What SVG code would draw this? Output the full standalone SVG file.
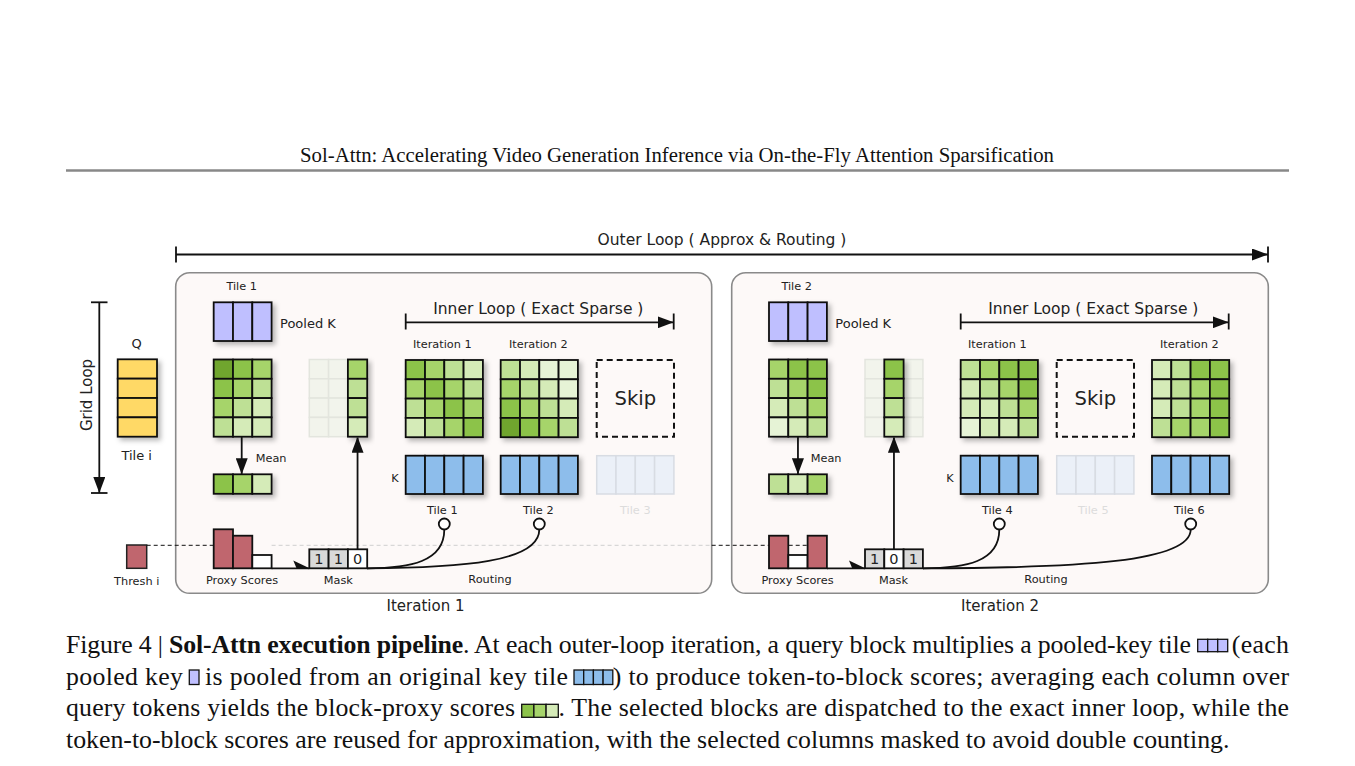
<svg xmlns="http://www.w3.org/2000/svg" xmlns:xlink="http://www.w3.org/1999/xlink" width="1355" height="766" viewBox="0 0 1355 766">
<style>
.bx{fill:#FDF9F8;stroke:#8a8a8a;stroke-width:1.6}
.m rect{stroke:#111;stroke-width:1.8}
.fd rect{fill:#F2F4EC;stroke:#E3E5DE;stroke-width:1.5}
.g1{fill:#6FA52E}.g2{fill:#8CC34A}.g3{fill:#A6D46B}.g4{fill:#BEE095}.g5{fill:#D5EBB8}.g6{fill:#E6F3D6}
.pk{fill:#BFBFFF}.kb{fill:#8DBDEB}.qy{fill:#FFD966}.pr{fill:#C0666E}.wh{fill:#ffffff}.mg{fill:#D9D9D9}
.fk rect{fill:#EBF0F8;stroke:#D8DCE3;stroke-width:1.5}
.t{font-family:"DejaVu Sans",Verdana,sans-serif;fill:#222}
.sm{font-size:11.3px}
.md{font-size:13px}
.lg{font-size:15.5px}
.mid{text-anchor:middle}
.ln{stroke:#111;stroke-width:1.8;fill:none}
.dash{stroke:#111;stroke-width:1;stroke-dasharray:4 3;fill:none}
.dashl{stroke:#cfcfcf;stroke-width:1;stroke-dasharray:4 3;fill:none}
.skip{fill:none;stroke:#111;stroke-width:2;stroke-dasharray:6 4}
.cap{font-family:"Liberation Serif","Times New Roman",serif;font-size:25.8px;fill:#111}
.ic rect{stroke:#111;stroke-width:1.3}
</style>
<defs>
<filter id="sh" x="-20%" y="-20%" width="160%" height="160%">
<feDropShadow dx="3" dy="3" stdDeviation="2.5" flood-color="#000" flood-opacity="0.28"/>
</filter>
<marker id="ah" viewBox="0 0 16 12" refX="16" refY="6" markerWidth="16" markerHeight="12" markerUnits="userSpaceOnUse" orient="auto">
<path d="M0,0 L16,6 L0,12 z" fill="#111"/>
</marker>
<g id="pooled" class="m">
<rect x="0" y="0" width="19.3" height="38.7" class="pk"/>
<rect x="19.3" y="0" width="19.3" height="38.7" class="pk"/>
<rect x="38.6" y="0" width="19.3" height="38.7" class="pk"/>
</g>
<g id="ktile" class="m">
<rect x="0" y="0" width="19.3" height="38.3" class="kb"/>
<rect x="19.3" y="0" width="19.3" height="38.3" class="kb"/>
<rect x="38.6" y="0" width="19.3" height="38.3" class="kb"/>
<rect x="57.9" y="0" width="19.3" height="38.3" class="kb"/>
</g>
<g id="kfaded" class="fk">
<rect x="0" y="0" width="19.3" height="38.3"/>
<rect x="19.3" y="0" width="19.3" height="38.3"/>
<rect x="38.6" y="0" width="19.3" height="38.3"/>
<rect x="57.9" y="0" width="19.3" height="38.3"/>
</g>
<g id="fade34" class="fd">
<rect x="0" y="0" width="19.3" height="19.3"/><rect x="19.3" y="0" width="19.3" height="19.3"/><rect x="38.6" y="0" width="19.3" height="19.3"/>
<rect x="0" y="19.3" width="19.3" height="19.3"/><rect x="19.3" y="19.3" width="19.3" height="19.3"/><rect x="38.6" y="19.3" width="19.3" height="19.3"/>
<rect x="0" y="38.6" width="19.3" height="19.3"/><rect x="19.3" y="38.6" width="19.3" height="19.3"/><rect x="38.6" y="38.6" width="19.3" height="19.3"/>
<rect x="0" y="57.9" width="19.3" height="19.3"/><rect x="19.3" y="57.9" width="19.3" height="19.3"/><rect x="38.6" y="57.9" width="19.3" height="19.3"/>
</g>
</defs>

<g id="header">
<text class="cap" x="677" y="162" text-anchor="middle" style="font-size:20px" textLength="754" lengthAdjust="spacingAndGlyphs">Sol-Attn: Accelerating Video Generation Inference via On-the-Fly Attention Sparsification</text>
<line x1="66" y1="170.5" x2="1289" y2="170.5" stroke="#888" stroke-width="2.5"/>
</g>

<g id="outer-loop">
<text class="t lg mid" x="722" y="244.5">Outer Loop ( Approx &amp; Routing )</text>
<line class="ln" x1="176" y1="254.5" x2="1268" y2="254.5" marker-end="url(#ah)"/>
<line class="ln" x1="176" y1="246.5" x2="176" y2="262.5"/>
<line class="ln" x1="1268" y1="246.5" x2="1268" y2="262.5"/>
</g>

<g id="grid-loop">
<line class="ln" x1="99.3" y1="302.3" x2="99.3" y2="493" marker-end="url(#ah)"/>
<line class="ln" x1="91" y1="302.3" x2="107.5" y2="302.3"/>
<line class="ln" x1="91" y1="493" x2="107.5" y2="493"/>
<text class="t mid" style="font-size:15px" transform="translate(92.3,395) rotate(-90)">Grid Loop</text>
</g>

<g id="q-tile">
<text class="t md mid" x="136.7" y="347.5">Q</text>
<g class="m" filter="url(#sh)">
<rect x="117.7" y="359.3" width="39.3" height="19.35" class="qy"/>
<rect x="117.7" y="378.65" width="39.3" height="19.35" class="qy"/>
<rect x="117.7" y="398" width="39.3" height="19.35" class="qy"/>
<rect x="117.7" y="417.35" width="39.3" height="19.35" class="qy"/>
</g>
<text class="t md mid" x="136.7" y="459.5">Tile i</text>
</g>

<g id="box1-frame"><rect class="bx" x="175.7" y="272.7" width="536" height="320.6" rx="14"/></g>
<g id="box2-frame"><rect class="bx" x="731.7" y="272.7" width="536.6" height="320.6" rx="14"/></g>

<g id="threshold">
<rect x="126.7" y="545" width="20" height="23.3" class="pr" stroke="#222" stroke-width="1.5"/>
<text class="t sm mid" x="136.7" y="584.8">Thresh i</text>
</g>

<g id="connectors">
<line class="dash" x1="146.7" y1="545.3" x2="213.7" y2="545.3"/>
<line class="dashl" x1="271.6" y1="545.3" x2="711" y2="545.3"/>
<line class="dash" x1="711.7" y1="545.3" x2="807.6" y2="545.3"/>
<line class="ln" x1="241.7" y1="436" x2="241.7" y2="474.3" marker-end="url(#ah)"/>
<line class="ln" x1="357.55" y1="549.3" x2="357.55" y2="436.7" marker-end="url(#ah)"/>
<line class="ln" x1="271.6" y1="568.3" x2="309.3" y2="568.3"/>
<polygon points="293.3,560.5 309.5,568.3 296.5,568.3" fill="#111"/>
<path class="ln" d="M367.2,568.3 C410,568 444.3,562 444.3,529.5"/>
<path class="ln" d="M367.2,568.3 C462,568 539.3,562 539.3,529.5"/>
<line class="ln" x1="405.7" y1="322.3" x2="673.7" y2="322.3" marker-end="url(#ah)"/>
<line class="ln" x1="405.7" y1="313.5" x2="405.7" y2="329.5"/>
<line class="ln" x1="673.7" y1="313.5" x2="673.7" y2="329.5"/>
<line class="ln" x1="797.95" y1="436" x2="797.95" y2="474.3" marker-end="url(#ah)"/>
<line class="ln" x1="893.95" y1="549.3" x2="893.95" y2="436.7" marker-end="url(#ah)"/>
<line class="ln" x1="826.9" y1="568.3" x2="865" y2="568.3"/>
<polygon points="849,560.5 865.2,568.3 852.2,568.3" fill="#111"/>
<path class="ln" d="M922.9,568.3 C966,568 999.3,562 999.3,529.5"/>
<path class="ln" d="M922.9,568.3 C1080,568 1190.7,562 1190.7,529.5"/>
<line class="ln" x1="960.7" y1="322.3" x2="1228.7" y2="322.3" marker-end="url(#ah)"/>
<line class="ln" x1="960.7" y1="313.5" x2="960.7" y2="329.5"/>
<line class="ln" x1="1228.7" y1="313.5" x2="1228.7" y2="329.5"/>
<circle cx="444.3" cy="524" r="5.5" fill="#fff" stroke="#111" stroke-width="1.8"/>
<circle cx="539.3" cy="524" r="5.5" fill="#fff" stroke="#111" stroke-width="1.8"/>
<circle cx="999.3" cy="524" r="5.5" fill="#fff" stroke="#111" stroke-width="1.8"/>
<circle cx="1190.7" cy="524" r="5.5" fill="#fff" stroke="#111" stroke-width="1.8"/>
</g>

<g id="b1-pooled">
<text class="t sm mid" x="241.7" y="290">Tile 1</text>
<use xlink:href="#pooled" x="213.7" y="302.3" filter="url(#sh)"/>
<text class="t md" x="280" y="328">Pooled K</text>
</g>
<g id="b1-scores" class="m" filter="url(#sh)" transform="translate(213.7,359.5)">
<rect x="0" y="0" width="19.3" height="19.3" class="g1"/><rect x="19.3" y="0" width="19.3" height="19.3" class="g2"/><rect x="38.6" y="0" width="19.3" height="19.3" class="g3"/>
<rect x="0" y="19.3" width="19.3" height="19.3" class="g2"/><rect x="19.3" y="19.3" width="19.3" height="19.3" class="g3"/><rect x="38.6" y="19.3" width="19.3" height="19.3" class="g4"/>
<rect x="0" y="38.6" width="19.3" height="19.3" class="g3"/><rect x="19.3" y="38.6" width="19.3" height="19.3" class="g4"/><rect x="38.6" y="38.6" width="19.3" height="19.3" class="g5"/>
<rect x="0" y="57.9" width="19.3" height="19.3" class="g4"/><rect x="19.3" y="57.9" width="19.3" height="19.3" class="g5"/><rect x="38.6" y="57.9" width="19.3" height="19.3" class="g5"/>
</g>
<g id="b1-mean">
<text class="t sm" x="255.7" y="462.3">Mean</text>
<g class="m" filter="url(#sh)" transform="translate(213.7,474.3)">
<rect x="0" y="0" width="19.3" height="19.5" class="g2"/><rect x="19.3" y="0" width="19.3" height="19.5" class="g3"/><rect x="38.6" y="0" width="19.3" height="19.5" class="g5"/>
</g>
</g>
<g id="b1-masked">
<use xlink:href="#fade34" x="309.3" y="359.5"/>
<g class="m" filter="url(#sh)" transform="translate(347.9,359.5)">
<rect x="0" y="0" width="19.3" height="19.3" class="g3"/><rect x="0" y="19.3" width="19.3" height="19.3" class="g4"/><rect x="0" y="38.6" width="19.3" height="19.3" class="g4"/><rect x="0" y="57.9" width="19.3" height="19.3" class="g5"/>
</g>
</g>
<g id="b1-inner-label"><text class="t lg mid" x="538.3" y="313.8">Inner Loop ( Exact Sparse )</text></g>
<g id="b1-iter1">
<text class="t sm mid" x="442.3" y="347.5">Iteration 1</text>
<g class="m" filter="url(#sh)" transform="translate(405.7,360)">
<rect x="0" y="0" width="19.3" height="19.3" class="g2"/><rect x="19.3" y="0" width="19.3" height="19.3" class="g3"/><rect x="38.6" y="0" width="19.3" height="19.3" class="g4"/><rect x="57.9" y="0" width="19.3" height="19.3" class="g5"/>
<rect x="0" y="19.3" width="19.3" height="19.3" class="g3"/><rect x="19.3" y="19.3" width="19.3" height="19.3" class="g2"/><rect x="38.6" y="19.3" width="19.3" height="19.3" class="g3"/><rect x="57.9" y="19.3" width="19.3" height="19.3" class="g4"/>
<rect x="0" y="38.6" width="19.3" height="19.3" class="g4"/><rect x="19.3" y="38.6" width="19.3" height="19.3" class="g3"/><rect x="38.6" y="38.6" width="19.3" height="19.3" class="g2"/><rect x="57.9" y="38.6" width="19.3" height="19.3" class="g3"/>
<rect x="0" y="57.9" width="19.3" height="19.3" class="g5"/><rect x="19.3" y="57.9" width="19.3" height="19.3" class="g4"/><rect x="38.6" y="57.9" width="19.3" height="19.3" class="g3"/><rect x="57.9" y="57.9" width="19.3" height="19.3" class="g2"/>
</g>
<use xlink:href="#ktile" x="405.7" y="455.7" filter="url(#sh)"/>
<text class="t sm mid" x="442.3" y="514">Tile 1</text>
</g>
<g id="b1-iter2">
<text class="t sm mid" x="538.3" y="347.5">Iteration 2</text>
<g class="m" filter="url(#sh)" transform="translate(500.7,360)">
<rect x="0" y="0" width="19.3" height="19.3" class="g4"/><rect x="19.3" y="0" width="19.3" height="19.3" class="g5"/><rect x="38.6" y="0" width="19.3" height="19.3" class="g6"/><rect x="57.9" y="0" width="19.3" height="19.3" class="g6"/>
<rect x="0" y="19.3" width="19.3" height="19.3" class="g3"/><rect x="19.3" y="19.3" width="19.3" height="19.3" class="g4"/><rect x="38.6" y="19.3" width="19.3" height="19.3" class="g5"/><rect x="57.9" y="19.3" width="19.3" height="19.3" class="g6"/>
<rect x="0" y="38.6" width="19.3" height="19.3" class="g2"/><rect x="19.3" y="38.6" width="19.3" height="19.3" class="g3"/><rect x="38.6" y="38.6" width="19.3" height="19.3" class="g4"/><rect x="57.9" y="38.6" width="19.3" height="19.3" class="g5"/>
<rect x="0" y="57.9" width="19.3" height="19.3" class="g1"/><rect x="19.3" y="57.9" width="19.3" height="19.3" class="g2"/><rect x="38.6" y="57.9" width="19.3" height="19.3" class="g3"/><rect x="57.9" y="57.9" width="19.3" height="19.3" class="g4"/>
</g>
<use xlink:href="#ktile" x="500.7" y="455.7" filter="url(#sh)"/>
<text class="t sm mid" x="538.3" y="514">Tile 2</text>
</g>
<g id="b1-skip">
<rect class="skip" x="596.7" y="360" width="77.3" height="76.7"/>
<text class="t mid" style="font-size:19.5px" x="635.3" y="405">Skip</text>
<use xlink:href="#kfaded" x="596.7" y="455.7"/>
<text class="t sm mid" x="635.3" y="514" style="fill:#dcdcdc">Tile 3</text>
</g>
<g id="b1-k-label"><text class="t sm mid" x="395" y="482.3">K</text></g>
<g id="b1-proxy">
<g stroke="#111" stroke-width="1.8">
<rect x="213.7" y="529.3" width="19.3" height="39" class="pr"/>
<rect x="233" y="535.7" width="19.3" height="32.6" class="pr"/>
<rect x="252.3" y="555" width="19.3" height="13.3" class="wh"/>
</g>
<text class="t sm mid" x="242" y="583.5">Proxy Scores</text>
</g>
<g id="b1-mask">
<g class="m">
<rect x="309.3" y="549.3" width="19.3" height="19" class="mg"/><rect x="328.6" y="549.3" width="19.3" height="19" class="mg"/><rect x="347.9" y="549.3" width="19.3" height="19" class="wh"/>
</g>
<g class="t mid" style="font-size:14.5px"><text x="318.95" y="564">1</text><text x="338.25" y="564">1</text><text x="357.55" y="564">0</text></g>
<text class="t sm mid" x="338.3" y="583.5">Mask</text>
</g>
<g id="b1-routing"><text class="t sm mid" x="490" y="582.5">Routing</text></g>
<g id="b1-title"><text class="t mid" style="font-size:15px" x="425.5" y="611">Iteration 1</text></g>

<g id="b2-pooled">
<text class="t sm mid" x="796.7" y="290">Tile 2</text>
<use xlink:href="#pooled" x="769" y="302.3" filter="url(#sh)"/>
<text class="t md" x="835.3" y="328">Pooled K</text>
</g>
<g id="b2-scores" class="m" filter="url(#sh)" transform="translate(769,359.5)">
<rect x="0" y="0" width="19.3" height="19.3" class="g3"/><rect x="19.3" y="0" width="19.3" height="19.3" class="g2"/><rect x="38.6" y="0" width="19.3" height="19.3" class="g2"/>
<rect x="0" y="19.3" width="19.3" height="19.3" class="g4"/><rect x="19.3" y="19.3" width="19.3" height="19.3" class="g3"/><rect x="38.6" y="19.3" width="19.3" height="19.3" class="g2"/>
<rect x="0" y="38.6" width="19.3" height="19.3" class="g5"/><rect x="19.3" y="38.6" width="19.3" height="19.3" class="g4"/><rect x="38.6" y="38.6" width="19.3" height="19.3" class="g3"/>
<rect x="0" y="57.9" width="19.3" height="19.3" class="g6"/><rect x="19.3" y="57.9" width="19.3" height="19.3" class="g5"/><rect x="38.6" y="57.9" width="19.3" height="19.3" class="g4"/>
</g>
<g id="b2-mean">
<text class="t sm" x="810.7" y="462.3">Mean</text>
<g class="m" filter="url(#sh)" transform="translate(769,474.3)">
<rect x="0" y="0" width="19.3" height="19.5" class="g4"/><rect x="19.3" y="0" width="19.3" height="19.5" class="g5"/><rect x="38.6" y="0" width="19.3" height="19.5" class="g3"/>
</g>
</g>
<g id="b2-masked">
<use xlink:href="#fade34" x="865" y="359.5"/>
<g class="m" filter="url(#sh)" transform="translate(884.3,359.5)">
<rect x="0" y="0" width="19.3" height="19.3" class="g2"/><rect x="0" y="19.3" width="19.3" height="19.3" class="g3"/><rect x="0" y="38.6" width="19.3" height="19.3" class="g4"/><rect x="0" y="57.9" width="19.3" height="19.3" class="g5"/>
</g>
</g>
<g id="b2-inner-label"><text class="t lg mid" x="1093.3" y="313.8">Inner Loop ( Exact Sparse )</text></g>
<g id="b2-iter1">
<text class="t sm mid" x="997.3" y="347.5">Iteration 1</text>
<g class="m" filter="url(#sh)" transform="translate(960.7,360)">
<rect x="0" y="0" width="19.3" height="19.3" class="g4"/><rect x="19.3" y="0" width="19.3" height="19.3" class="g3"/><rect x="38.6" y="0" width="19.3" height="19.3" class="g2"/><rect x="57.9" y="0" width="19.3" height="19.3" class="g2"/>
<rect x="0" y="19.3" width="19.3" height="19.3" class="g5"/><rect x="19.3" y="19.3" width="19.3" height="19.3" class="g4"/><rect x="38.6" y="19.3" width="19.3" height="19.3" class="g3"/><rect x="57.9" y="19.3" width="19.3" height="19.3" class="g2"/>
<rect x="0" y="38.6" width="19.3" height="19.3" class="g5"/><rect x="19.3" y="38.6" width="19.3" height="19.3" class="g5"/><rect x="38.6" y="38.6" width="19.3" height="19.3" class="g4"/><rect x="57.9" y="38.6" width="19.3" height="19.3" class="g3"/>
<rect x="0" y="57.9" width="19.3" height="19.3" class="g6"/><rect x="19.3" y="57.9" width="19.3" height="19.3" class="g5"/><rect x="38.6" y="57.9" width="19.3" height="19.3" class="g5"/><rect x="57.9" y="57.9" width="19.3" height="19.3" class="g4"/>
</g>
<use xlink:href="#ktile" x="960.7" y="455.7" filter="url(#sh)"/>
<text class="t sm mid" x="997.3" y="514">Tile 4</text>
</g>
<g id="b2-skip">
<rect class="skip" x="1056.7" y="360" width="77.3" height="76.7"/>
<text class="t mid" style="font-size:19.5px" x="1095.3" y="405">Skip</text>
<use xlink:href="#kfaded" x="1056.7" y="455.7"/>
<text class="t sm mid" x="1093.3" y="514" style="fill:#dcdcdc">Tile 5</text>
</g>
<g id="b2-iter2">
<text class="t sm mid" x="1189.3" y="347.5">Iteration 2</text>
<g class="m" filter="url(#sh)" transform="translate(1152,360)">
<rect x="0" y="0" width="19.3" height="19.3" class="g5"/><rect x="19.3" y="0" width="19.3" height="19.3" class="g4"/><rect x="38.6" y="0" width="19.3" height="19.3" class="g2"/><rect x="57.9" y="0" width="19.3" height="19.3" class="g2"/>
<rect x="0" y="19.3" width="19.3" height="19.3" class="g5"/><rect x="19.3" y="19.3" width="19.3" height="19.3" class="g4"/><rect x="38.6" y="19.3" width="19.3" height="19.3" class="g3"/><rect x="57.9" y="19.3" width="19.3" height="19.3" class="g2"/>
<rect x="0" y="38.6" width="19.3" height="19.3" class="g5"/><rect x="19.3" y="38.6" width="19.3" height="19.3" class="g4"/><rect x="38.6" y="38.6" width="19.3" height="19.3" class="g3"/><rect x="57.9" y="38.6" width="19.3" height="19.3" class="g2"/>
<rect x="0" y="57.9" width="19.3" height="19.3" class="g4"/><rect x="19.3" y="57.9" width="19.3" height="19.3" class="g3"/><rect x="38.6" y="57.9" width="19.3" height="19.3" class="g3"/><rect x="57.9" y="57.9" width="19.3" height="19.3" class="g2"/>
</g>
<use xlink:href="#ktile" x="1152" y="455.7" filter="url(#sh)"/>
<text class="t sm mid" x="1189.3" y="514">Tile 6</text>
</g>
<g id="b2-k-label"><text class="t sm mid" x="950" y="482.3">K</text></g>
<g id="b2-proxy">
<g stroke="#111" stroke-width="1.8">
<rect x="769" y="535.7" width="19.3" height="32.6" class="pr"/>
<rect x="788.3" y="555" width="19.3" height="13.3" class="wh"/>
<rect x="807.6" y="535.7" width="19.3" height="32.6" class="pr"/>
</g>
<text class="t sm mid" x="797.5" y="583.5">Proxy Scores</text>
</g>
<g id="b2-mask">
<g class="m">
<rect x="865" y="549.3" width="19.3" height="19" class="mg"/><rect x="884.3" y="549.3" width="19.3" height="19" class="wh"/><rect x="903.6" y="549.3" width="19.3" height="19" class="mg"/>
</g>
<g class="t mid" style="font-size:14.5px"><text x="874.65" y="564">1</text><text x="893.95" y="564">0</text><text x="913.25" y="564">1</text></g>
<text class="t sm mid" x="893.5" y="583.5">Mask</text>
</g>
<g id="b2-routing"><text class="t sm mid" x="1046" y="582.5">Routing</text></g>
<g id="b2-title"><text class="t mid" style="font-size:15px" x="1000" y="611">Iteration 2</text></g>

<g id="caption">
<text class="cap" x="66" y="652.5" textLength="1125" lengthAdjust="spacing">Figure 4 | <tspan font-weight="bold">Sol-Attn execution pipeline</tspan>. At each outer-loop iteration, a query block multiplies a pooled-key tile</text>
<g class="ic"><rect x="1197.7" y="639.3" width="10" height="12.4" class="pk"/><rect x="1207.7" y="639.3" width="10" height="12.4" class="pk"/><rect x="1217.7" y="639.3" width="10" height="12.4" class="pk"/></g>
<text class="cap" x="1231.7" y="652.5" textLength="57.3" lengthAdjust="spacing">(each</text>
<text class="cap" x="66" y="684.5" textLength="117" lengthAdjust="spacing">pooled key</text>
<g class="ic"><rect x="189.3" y="670" width="9.7" height="14.5" class="pk"/></g>
<text class="cap" x="205" y="684.5" textLength="363" lengthAdjust="spacing">is pooled from an original key tile</text>
<g class="ic"><rect x="574" y="670" width="9.7" height="14.5" class="kb"/><rect x="583.7" y="670" width="9.7" height="14.5" class="kb"/><rect x="593.4" y="670" width="9.7" height="14.5" class="kb"/><rect x="603.1" y="670" width="9.7" height="14.5" class="kb"/></g>
<text class="cap" x="612.8" y="684.5" textLength="676.2" lengthAdjust="spacing">) to produce token-to-block scores; averaging each column over</text>
<text class="cap" x="66" y="716" textLength="449" lengthAdjust="spacing">query tokens yields the block-proxy scores</text>
<g class="ic"><rect x="521.7" y="704.3" width="12.2" height="13" class="g2"/><rect x="533.9" y="704.3" width="12.2" height="13" class="g3"/><rect x="546.1" y="704.3" width="12.2" height="13" class="g5"/></g>
<text class="cap" x="558.5" y="716" textLength="730.5" lengthAdjust="spacing">. The selected blocks are dispatched to the exact inner loop, while the</text>
<text class="cap" x="66" y="747.5">token-to-block scores are reused for approximation, with the selected columns masked to avoid double counting.</text>
</g>
</svg>
